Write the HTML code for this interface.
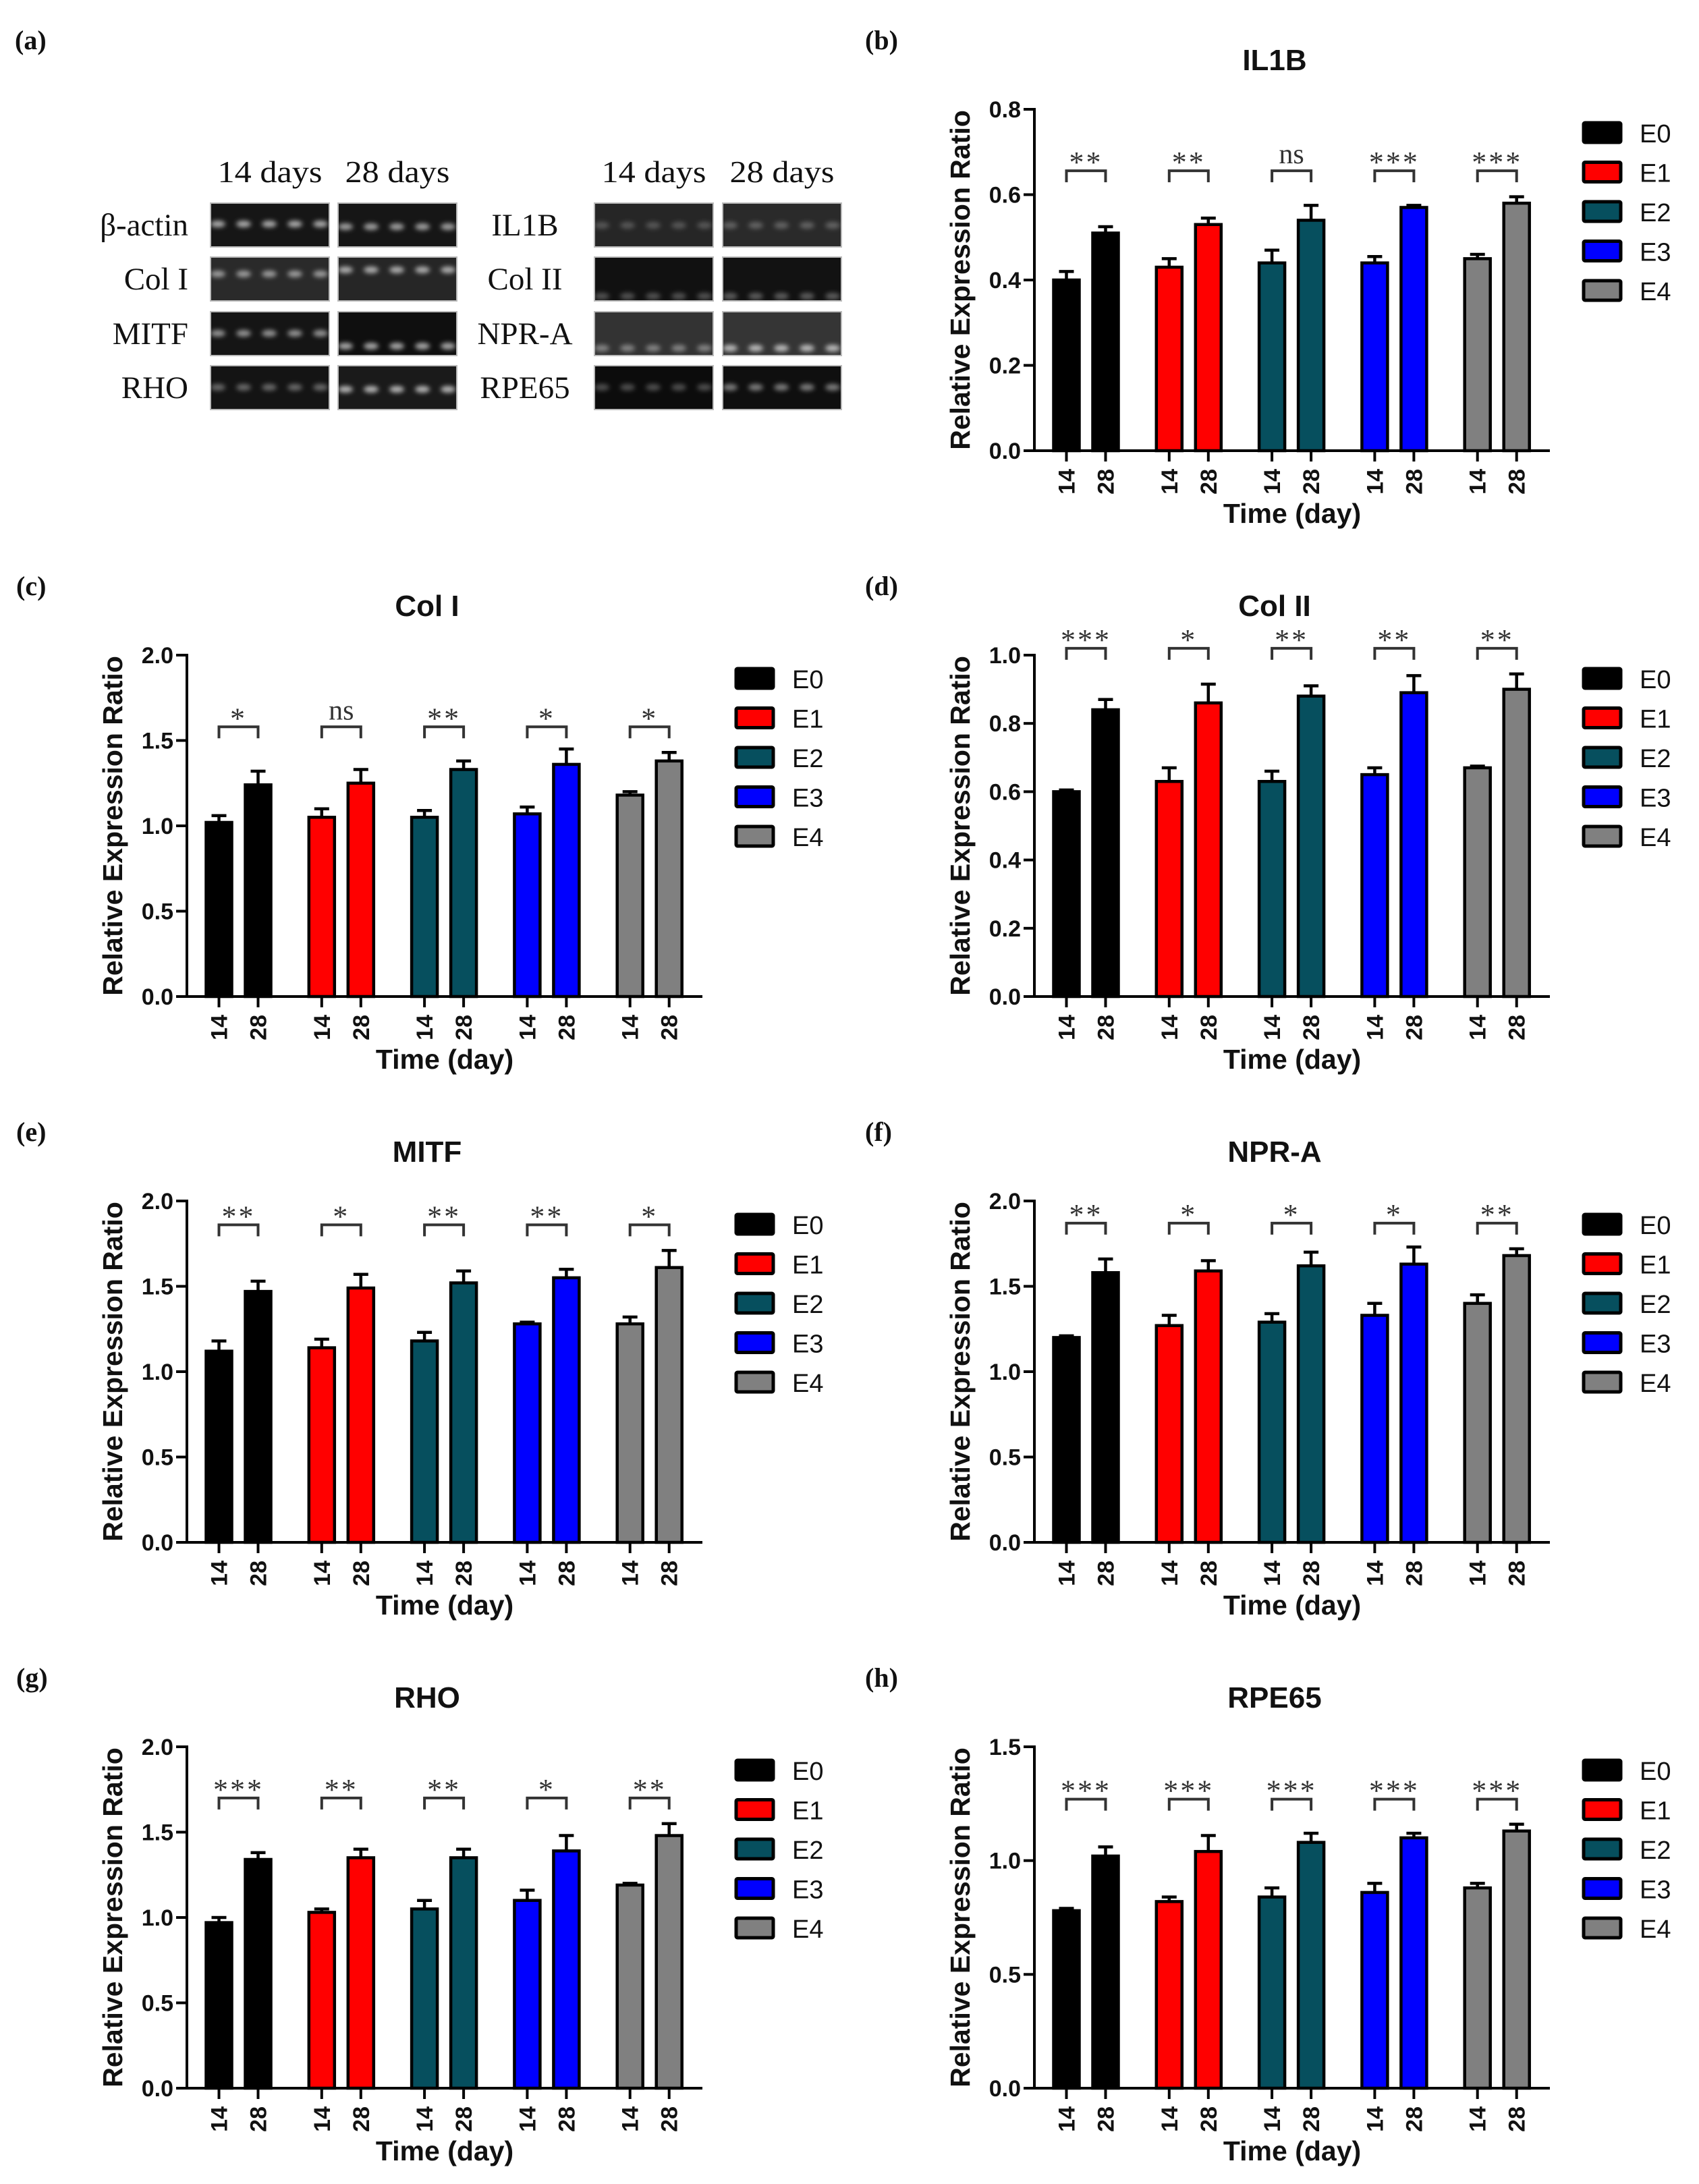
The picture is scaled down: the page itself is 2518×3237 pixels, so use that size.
<!DOCTYPE html>
<html><head><meta charset="utf-8">
<style>
html,body{margin:0;padding:0;background:#fff;}
svg{display:block;}
.sans{font-family:"Liberation Sans",Arial,sans-serif;}
.serif{font-family:"Liberation Serif","Times New Roman",serif;}
</style></head>
<body>
<svg id="fig" xmlns="http://www.w3.org/2000/svg" width="2518" height="3237" viewBox="0 0 2518 3237">
<defs><filter id="blur" x="-50%" y="-100%" width="200%" height="300%"><feGaussianBlur stdDeviation="3.5"/></filter></defs>
<rect width="2518" height="3237" fill="#fff"/>
<g id="panelA"></g>
<g id="charts"></g>
</svg>
<script>
// ---------- chart data ----------
const groups = ["E0","E1","E2","E3","E4"];
const days = ["14","28"];
const groupColors = ["#000000","#ff0000","#064f5e","#0000ff","#808080"];

const il1bDay14 = [0.40,0.43,0.44,0.44,0.45];
const il1bDay28 = [0.51,0.53,0.54,0.57,0.58];
const il1bErr14 = [0.02,0.02,0.03,0.015,0.01];
const il1bErr28 = [0.015,0.015,0.035,0.005,0.015];
const il1bSig = ["**","**","ns","***","***"];
const il1bTicks = ["0.0","0.2","0.4","0.6","0.8"];

const col1Day14 = [1.02,1.05,1.05,1.07,1.18];
const col1Day28 = [1.24,1.25,1.33,1.36,1.38];
const col1Err14 = [0.04,0.05,0.04,0.04,0.02];
const col1Err28 = [0.08,0.08,0.05,0.09,0.05];
const col1Sig = ["*","ns","**","*","*"];
const col1Ticks = ["0.0","0.5","1.0","1.5","2.0"];

const col2Day14 = [0.60,0.63,0.63,0.65,0.67];
const col2Day28 = [0.84,0.86,0.88,0.89,0.90];
const col2Err14 = [0.005,0.04,0.03,0.02,0.005];
const col2Err28 = [0.03,0.055,0.03,0.05,0.045];
const col2Sig = ["***","*","**","**","**"];
const col2Ticks = ["0.0","0.2","0.4","0.6","0.8","1.0"];

const mitfDay14 = [1.12,1.14,1.18,1.28,1.28];
const mitfDay28 = [1.47,1.49,1.52,1.55,1.61];
const mitfErr14 = [0.06,0.05,0.05,0.01,0.04];
const mitfErr28 = [0.06,0.08,0.07,0.05,0.10];
const mitfSig = ["**","*","**","**","*"];
const mitfTicks = ["0.0","0.5","1.0","1.5","2.0"];

const nprDay14 = [1.20,1.27,1.29,1.33,1.40];
const nprDay28 = [1.58,1.59,1.62,1.63,1.68];
const nprErr14 = [0.01,0.06,0.05,0.07,0.05];
const nprErr28 = [0.08,0.06,0.08,0.10,0.04];
const nprSig = ["**","*","*","*","**"];
const nprTicks = ["0.0","0.5","1.0","1.5","2.0"];

const rhoDay14 = [0.97,1.03,1.05,1.10,1.19];
const rhoDay28 = [1.34,1.35,1.35,1.39,1.48];
const rhoErr14 = [0.03,0.02,0.05,0.06,0.01];
const rhoErr28 = [0.04,0.05,0.05,0.09,0.07];
const rhoSig = ["***","**","**","*","**"];
const rhoTicks = ["0.0","0.5","1.0","1.5","2.0"];

const rpeDay14 = [0.78,0.82,0.84,0.86,0.88];
const rpeDay28 = [1.02,1.04,1.08,1.10,1.13];
const rpeErr14 = [0.01,0.02,0.04,0.04,0.02];
const rpeErr28 = [0.04,0.07,0.04,0.02,0.03];
const rpeSig = ["***","***","***","***","***"];
const rpeTicks = ["0.0","0.5","1.0","1.5"];

const NS = "http://www.w3.org/2000/svg";
function mk(parent, tag, attrs, text){
  const e = document.createElementNS(NS, tag);
  for (const k in attrs) e.setAttribute(k, attrs[k]);
  if (text !== undefined) e.textContent = text;
  parent.appendChild(e);
  return e;
}

const chartsG = document.getElementById("charts");
const LEFT_AX = 277, RIGHT_AX = 1533, ROW_TOP = 162, ROW_PITCH = 809, AX_H = 506;

const charts = [
  {id:"b", title:"IL1B", col:1, row:0, max:0.8, ticks:il1bTicks, d14:il1bDay14, d28:il1bDay28, e14:il1bErr14, e28:il1bErr28, sig:il1bSig, bracket:0.656},
  {id:"c", title:"Col I", col:0, row:1, max:2.0, ticks:col1Ticks, d14:col1Day14, d28:col1Day28, e14:col1Err14, e28:col1Err28, sig:col1Sig, bracket:1.58},
  {id:"d", title:"Col II", col:1, row:1, max:1.0, ticks:col2Ticks, d14:col2Day14, d28:col2Day28, e14:col2Err14, e28:col2Err28, sig:col2Sig, bracket:1.02},
  {id:"e", title:"MITF", col:0, row:2, max:2.0, ticks:mitfTicks, d14:mitfDay14, d28:mitfDay28, e14:mitfErr14, e28:mitfErr28, sig:mitfSig, bracket:1.86},
  {id:"f", title:"NPR-A", col:1, row:2, max:2.0, ticks:nprTicks, d14:nprDay14, d28:nprDay28, e14:nprErr14, e28:nprErr28, sig:nprSig, bracket:1.87},
  {id:"g", title:"RHO", col:0, row:3, max:2.0, ticks:rhoTicks, d14:rhoDay14, d28:rhoDay28, e14:rhoErr14, e28:rhoErr28, sig:rhoSig, bracket:1.70},
  {id:"h", title:"RPE65", col:1, row:3, max:1.5, ticks:rpeTicks, d14:rpeDay14, d28:rpeDay28, e14:rpeErr14, e28:rpeErr28, sig:rpeSig, bracket:1.27}
];

charts.forEach(ch => {
  const ax = ch.col ? RIGHT_AX : LEFT_AX;
  const top = ROW_TOP + ch.row * ROW_PITCH;
  const base = top + AX_H;
  const y = v => base - v / ch.max * AX_H;
  const xGroup = i => ax + 47.5 + i * 152.3;
  const xBar = (i, k) => xGroup(i) + k * 58;
  const g = mk(chartsG, "g", {});
  
  

  const lab = mk(g, "text", {x: ch.col ? 1282 : 24, y: top - 89, "class":"serif", "font-size":40, "font-weight":"bold", fill:"#111"}, "(" + ch.id + ")");
  
  

  const t = mk(g, "text", {x: ax + 356, y: top - 58, "class":"sans", "font-size":44, "font-weight":"bold", "text-anchor":"middle", fill:"#111"}, ch.title);
  
  

  [ch.d14, ch.d28].forEach((arr, k) => {
    const errs = k ? ch.e28 : ch.e14;
    arr.forEach((v, i) => {
      const cx = xBar(i, k);
      const top1 = y(v + errs[i]);
      const eb = mk(g, "path", {d:`M${cx},${y(v)} L${cx},${top1} M${cx-11},${top1} L${cx+11},${top1}`, stroke:"#000", "stroke-width":4.5, fill:"none"});
      
      
      const r = mk(g, "rect", {x: cx - 19, y: y(v), width: 38, height: base - y(v), fill: groupColors[i], stroke:"#000", "stroke-width":4.5});
      
      
    });
  });

  const yAxis = mk(g, "line", {x1: ax, y1: top - 2, x2: ax, y2: base + 2, stroke:"#000", "stroke-width":4});
  
  
  const xAxis = mk(g, "line", {x1: ax - 16, y1: base, x2: ax + 764, y2: base, stroke:"#000", "stroke-width":4});
  
  

  ch.ticks.forEach(tl => {
    const v = parseFloat(tl);
    const ty = y(v);
    const tk = mk(g, "line", {x1: ax - 16, y1: ty, x2: ax, y2: ty, stroke:"#000", "stroke-width":4});
    
    
    const tt = mk(g, "text", {x: ax - 20, y: ty + 12, "class":"sans", "font-size":34, "font-weight":"bold", "text-anchor":"end", fill:"#111"}, tl);
    
    
  });

  for (let i = 0; i < groups.length; i++) {
    for (let k = 0; k < 2; k++) {
      const cx = xBar(i, k);
      const tk = mk(g, "line", {x1: cx, y1: base, x2: cx, y2: base + 16, stroke:"#000", "stroke-width":4});
      
      
      const tt = mk(g, "text", {x: 0, y: 0, transform:`translate(${cx + 12},${base + 27}) rotate(-90)`, "class":"sans", "font-size":34, "font-weight":"bold", "text-anchor":"end", fill:"#111"}, days[k]);
      
      
    }
    const bx1 = xBar(i, 0), bx2 = xBar(i, 1), by = y(ch.bracket);
    const br = mk(g, "path", {d:`M${bx1},${by+17} L${bx1},${by} L${bx2},${by} L${bx2},${by+17}`, stroke:"#333", "stroke-width":4, fill:"none"});
    
    
    const isNs = ch.sig[i] === "ns";
    const st = mk(g, "text", {x: (bx1 + bx2) / 2, y: isNs ? by - 11 : by + 2, "class":"serif", "font-size": isNs ? 42 : 44, "letter-spacing": isNs ? 0 : 3, "text-anchor":"middle", fill:"#333"}, ch.sig[i]);
    
    
  }

  const yt = mk(g, "text", {x:0, y:0, transform:`translate(${ax - 96},${(top + base) / 2}) rotate(-90)`, "class":"sans", "font-size":41, "font-weight":"bold", "text-anchor":"middle", fill:"#111"}, "Relative Expression Ratio");
  
  
  const xt = mk(g, "text", {x: ax + 382, y: base + 107, "class":"sans", "font-size":41, "font-weight":"bold", "text-anchor":"middle", fill:"#111"}, "Time (day)");
  
  

  groups.forEach((gn, i) => {
    const ly = top + 20 + i * 58.5;
    const lb = mk(g, "rect", {x: ax + 814, y: ly, width: 55, height: 29, fill: groupColors[i], stroke:"#000", "stroke-width":5, rx:2});
    
    
    const lt = mk(g, "text", {x: ax + 897, y: ly + 29, "class":"sans", "font-size":38, fill:"#111"}, gn);
    
    
  });
});

// ---------- panel (a) gels ----------
const gelRowLabelsLeft = ["β-actin","Col I","MITF","RHO"];
const gelRowLabelsRight = ["IL1B","Col II","NPR-A","RPE65"];
const gelHeaders = ["14 days","28 days","14 days","28 days"];
const gelBandOffsets = [[31,35,33,33],[25,19,58,58],[32,51,54,54],[32,35,32,32]];
const gelBandAlpha = [[0.7,0.65,0.25,0.3],[0.6,0.7,0.3,0.35],[0.6,0.7,0.45,0.75],[0.4,0.75,0.3,0.5]];
const gelBgColors = [["#161616","#161616","#262626","#2a2a2a"],["#2a2a2a","#262626","#111","#121212"],["#151515","#0f0f0f","#333","#353535"],["#141414","#1a1a1a","#0c0c0c","#0f0f0f"]];

const pa = document.getElementById("panelA");
const al = mk(pa, "text", {x:22, y:73, "class":"serif", "font-size":40, "font-weight":"bold", fill:"#111"}, "(a)");


const gelX = [312, 501, 881, 1071];
const gelY = [301, 381, 462, 542];
const lanes = [11, 49, 87, 125, 163];
gelHeaders.forEach((h, c) => {
  const ht = mk(pa, "text", {x: gelX[c] + 88, y: 270, "class":"serif", "font-size":46, "text-anchor":"middle", textLength:155, lengthAdjust:"spacingAndGlyphs", fill:"#111"}, h);
  
  
});
gelY.forEach((gy, r) => {
  const ll = mk(pa, "text", {x: 279, y: gy + 48, "class":"serif", "font-size":47, "text-anchor":"end", fill:"#111"}, gelRowLabelsLeft[r]);
  
  
  const rl = mk(pa, "text", {x: 778, y: gy + 48, "class":"serif", "font-size":47, "text-anchor":"middle", fill:"#111"}, gelRowLabelsRight[r]);
  
  
  gelX.forEach((gx, c) => {
    const gr = mk(pa, "rect", {x: gx, y: gy, width: 176, height: 65, fill: gelBgColors[r][c], stroke:"#bbb", "stroke-width":2});
    
    
    lanes.forEach(lx => {
      const b = mk(pa, "ellipse", {cx: gx + lx, cy: gy + gelBandOffsets[r][c], rx: 11, ry: 5, fill:"#e8e8e8", opacity: gelBandAlpha[r][c], filter:"url(#blur)"});
      
      
    });
  });
});
</script>
</body></html>
